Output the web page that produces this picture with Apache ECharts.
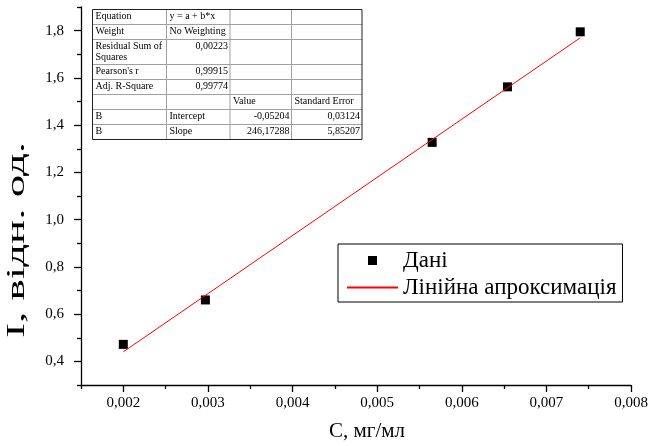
<!DOCTYPE html>
<html>
<head>
<meta charset="utf-8">
<script src="https://cdn.jsdelivr.net/npm/echarts@6/dist/echarts.min.js"></script>
<style>
  html, body { margin: 0; padding: 0; background: #fff; }
  #chart { width: 649px; height: 446px; }
</style>
</head>
<body>
<div id="chart"></div>
<script>
// Measured points: concentration (mg/ml) vs intensity
const concX = [0.00200, 0.00297, 0.00565, 0.00654, 0.00740];
const intensity = [0.472, 0.660, 1.327, 1.562, 1.795];

// Linear fit y = a + b*x, endpoints of the fitted segment
const fitIntercept = -0.05204;
const fitSlope = 246.17288;
const fitRangeX = [0.00200, 0.00740];

// Axis tick values
const xMajorTicks = [0.002, 0.003, 0.004, 0.005, 0.006, 0.007, 0.008];
const xMinorTicks = [0.0015, 0.0025, 0.0035, 0.0045, 0.0055, 0.0065, 0.0075];
const yMajorTicks = [0.4, 0.6, 0.8, 1.0, 1.2, 1.4, 1.6, 1.8];
const yMinorTicks = [0.3, 0.5, 0.7, 0.9, 1.1, 1.3, 1.5, 1.7, 1.9];

// Fit statistics table: rows of [col0, col1, col2, col3]
const tableRows = [
  ['Equation', 'y = a + b*x', '', ''],
  ['Weight', 'No Weighting', '', ''],
  ['Residual Sum of\nSquares', '0,00223', '', ''],
  ["Pearson's r", '0,99915', '', ''],
  ['Adj. R-Square', '0,99774', '', ''],
  ['', '', 'Value', 'Standard Error'],
  ['B', 'Intercept', '-0,05204', '0,03124'],
  ['B', 'Slope', '246,17288', '5,85207']
];
// 'l' = left aligned, 'r' = right aligned
const tableAlign = [
  ['l', 'l', 'l', 'l'],
  ['l', 'l', 'l', 'l'],
  ['l', 'r', 'l', 'l'],
  ['l', 'r', 'l', 'l'],
  ['l', 'r', 'l', 'l'],
  ['l', 'l', 'l', 'l'],
  ['l', 'l', 'r', 'r'],
  ['l', 'l', 'r', 'r']
];

const serif = 'Liberation Serif';

const fitLine = fitRangeX.map(x => [x, fitIntercept + fitSlope * x]);

// Table geometry
const tblLeft = 92.5;
const tblTop = 9.5;
const colEdges = [0, 74, 137.5, 199, 269.5];
const rowHeights = [15, 15, 25, 15, 15, 15, 15, 15];

function buildTable() {
  const els = [];
  const width = colEdges[colEdges.length - 1];
  const height = rowHeights.reduce((s, h) => s + h, 0);
  let y = tblTop;
  for (let r = 0; r < rowHeights.length - 1; r++) {
    y += rowHeights[r];
    els.push({
      type: 'line', silent: true,
      shape: { x1: tblLeft, y1: y, x2: tblLeft + width, y2: y },
      style: { stroke: '#a0a0a0', lineWidth: 1 }
    });
  }
  for (let c = 1; c < colEdges.length - 1; c++) {
    els.push({
      type: 'line', silent: true,
      shape: { x1: tblLeft + colEdges[c], y1: tblTop, x2: tblLeft + colEdges[c], y2: tblTop + height },
      style: { stroke: '#a0a0a0', lineWidth: 1 }
    });
  }
  els.push({
    type: 'rect', silent: true,
    shape: { x: tblLeft, y: tblTop, width: width, height: height },
    style: { fill: 'none', stroke: '#222', lineWidth: 1 }
  });
  y = tblTop;
  tableRows.forEach((row, r) => {
    row.forEach((txt, c) => {
      if (!txt) return;
      const right = tableAlign[r][c] === 'r';
      els.push({
        type: 'text', silent: true,
        x: right ? tblLeft + colEdges[c + 1] - 2 : tblLeft + colEdges[c] + 3,
        y: y + 2,
        style: {
          text: txt,
          fontFamily: serif,
          fontSize: 10,
          fill: '#000',
          align: right ? 'right' : 'left',
          verticalAlign: 'top',
          lineHeight: 10.5
        }
      });
    });
    y += rowHeights[r];
  });
  return els;
}

// Vertical axis title, drawn wide along its baseline
function buildYTitle() {
  return {
    type: 'text', silent: true,
    x: 17, y: 240,
    rotation: Math.PI / 2,
    scaleX: 1.8,
    style: {
      text: 'I, відн. од.',
      fontFamily: serif,
      fontSize: 25,
      fill: '#000',
      align: 'center',
      verticalAlign: 'middle'
    }
  };
}

const chart = echarts.init(document.getElementById('chart'), null, { renderer: 'canvas' });

const axisLabelFont = { fontFamily: serif, fontSize: 15, color: '#000' };
const axisLineStyle = { color: '#000', width: 1.3 };

chart.setOption({
  animation: false,
  backgroundColor: '#fff',
  textStyle: { fontFamily: serif },
  grid: {
    left: 81, right: 18, top: 7, bottom: 61,
    containLabel: false,
    outerBoundsMode: 'none'
  },
  xAxis: [
    {
      type: 'value',
      min: 0.0015, max: 0.008,
      position: 'bottom',
      splitLine: { show: false },
      axisLine: { show: true, onZero: false, lineStyle: axisLineStyle },
      axisTick: { show: true, customValues: xMajorTicks, length: 7, lineStyle: axisLineStyle },
      axisLabel: {
        show: true, customValues: xMajorTicks, margin: 11,
        formatter: v => v.toFixed(3).replace('.', ','),
        ...axisLabelFont
      },
      name: 'C, мг/мл',
      nameLocation: 'middle',
      nameGap: 36,
      nameTextStyle: { fontFamily: serif, fontSize: 21, color: '#000', padding: [0, 0, 0, 22] }
    },
    {
      type: 'value',
      min: 0.0015, max: 0.008,
      position: 'bottom',
      splitLine: { show: false },
      axisLine: { show: false, onZero: false },
      axisTick: { show: true, customValues: xMinorTicks, length: 4, lineStyle: axisLineStyle },
      axisLabel: { show: false }
    }
  ],
  yAxis: [
    {
      type: 'value',
      min: 0.3, max: 1.9,
      position: 'left',
      splitLine: { show: false },
      axisLine: { show: true, onZero: false, lineStyle: axisLineStyle },
      axisTick: { show: true, customValues: yMajorTicks, length: 7, lineStyle: axisLineStyle },
      axisLabel: {
        show: true, customValues: yMajorTicks, margin: 17,
        formatter: v => v.toFixed(1).replace('.', ','),
        ...axisLabelFont
      }
    },
    {
      type: 'value',
      min: 0.3, max: 1.9,
      position: 'left',
      splitLine: { show: false },
      axisLine: { show: false, onZero: false },
      axisTick: { show: true, customValues: yMinorTicks, length: 4, lineStyle: axisLineStyle },
      axisLabel: { show: false }
    }
  ],
  legend: {
    orient: 'vertical',
    left: 338, top: 244,
    padding: [5, 6, 3, 8],
    itemGap: 4,
    itemWidth: 51,
    itemHeight: 9,
    borderColor: '#000',
    borderWidth: 1,
    backgroundColor: '#fff',
    textStyle: { fontFamily: serif, fontSize: 23, color: '#000' },
    data: [
      { name: 'Дані', icon: 'path://M0,0h1v1h-1z', itemStyle: { color: '#000', opacity: 1 } },
      { name: 'Лінійна апроксимація', itemStyle: { opacity: 0 } }
    ]
  },
  series: [
    {
      name: 'Дані',
      type: 'scatter',
      xAxisIndex: 0, yAxisIndex: 0,
      symbol: 'rect',
      symbolSize: 9,
      itemStyle: { color: '#000', opacity: 1 },
      data: concX.map((x, i) => [x, intensity[i]]),
      z: 2
    },
    {
      name: 'Лінійна апроксимація',
      type: 'line',
      xAxisIndex: 0, yAxisIndex: 0,
      symbol: 'none',
      lineStyle: { color: '#ff0000', width: 1 },
      itemStyle: { color: '#ff0000' },
      data: fitLine,
      z: 3
    }
  ],
  graphic: buildTable().concat([buildYTitle()])
});
</script>
</body>
</html>
